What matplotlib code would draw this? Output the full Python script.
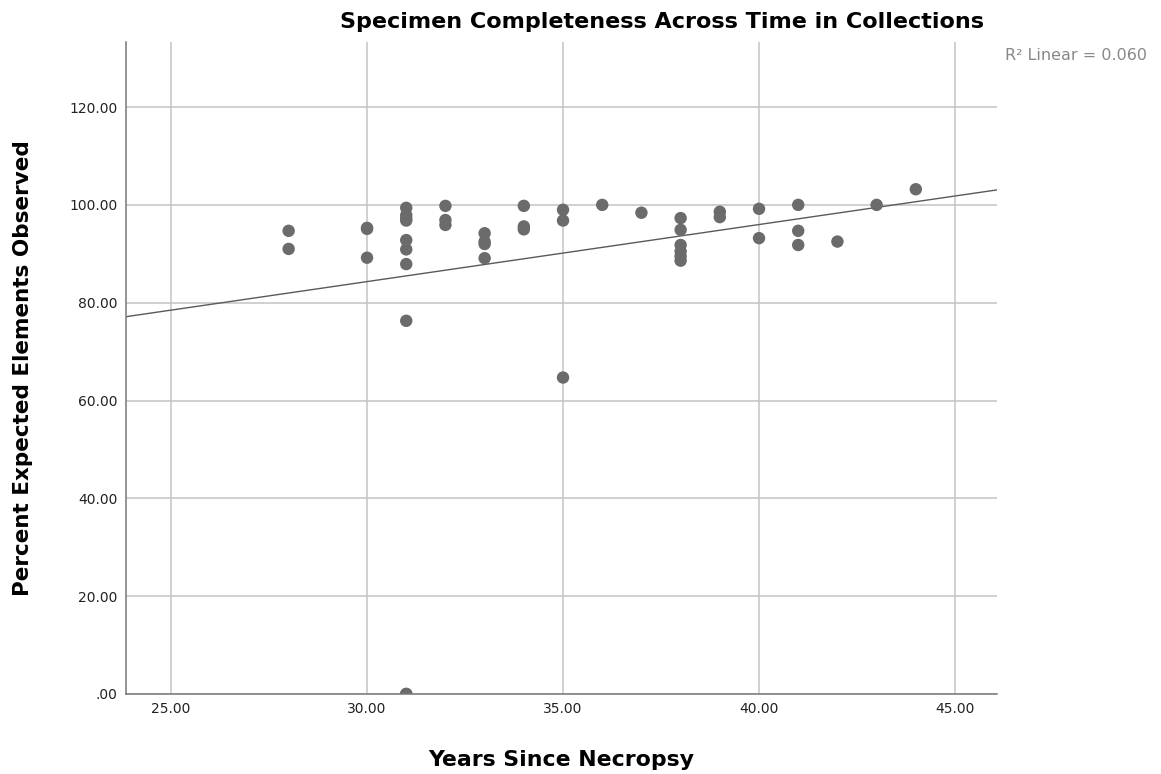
import numpy as np
import matplotlib.pyplot as plt

# Years since necropsy vs percent of expected elements observed
years = [28, 28,
         30, 30, 30,
         31, 31, 31, 31, 31, 31, 31, 31, 31, 31,
         32, 32, 32,
         33, 33, 33, 33,
         34, 34, 34,
         35, 35, 35,
         36, 37,
         38, 38, 38, 38, 38, 38,
         39, 39,
         40, 40,
         41, 41, 41,
         42, 43, 44]
percent = [94.7, 91.0,
           95.1, 95.3, 89.2,
           99.4, 97.9, 97.2, 96.8, 92.8, 90.9, 87.9, 76.3, 0.0, 0.0,
           99.8, 96.9, 95.9,
           94.2, 92.5, 92.0, 89.1,
           99.8, 95.6, 95.0,
           99.0, 96.8, 64.7,
           100.0, 98.4,
           97.3, 94.9, 91.8, 90.5, 89.5, 88.6,
           98.6, 97.5,
           99.2, 93.2,
           100.0, 94.7, 91.8,
           92.5, 100.0, 103.2]
r2_label = "R\u00b2 Linear = 0.060"

x_ticks = [25, 30, 35, 40, 45]
y_ticks = [0, 20, 40, 60, 80, 100, 120]

fig = plt.figure(figsize=(11.61, 7.74), dpi=100)
ax = fig.add_axes([0.1085, 0.1034, 0.7502, 0.8423])

ax.set_xlim(23.85, 46.07)
ax.set_ylim(0, 133.3)

ax.set_xticks(x_ticks)
ax.set_yticks(y_ticks)
ax.set_xticklabels(["%.2f" % t for t in x_ticks])
ax.set_yticklabels([".00" if t == 0 else "%.2f" % t for t in y_ticks])
ax.grid(True, color="#c4c4c4", linewidth=1.1)
ax.set_axisbelow(True)
ax.tick_params(length=0, labelsize=10, colors="#222222", pad=6)

for s in ["top", "right"]:
    ax.spines[s].set_visible(False)
for s in ["left", "bottom"]:
    ax.spines[s].set_color("#777777")
    ax.spines[s].set_linewidth(1.1)
    ax.spines[s].set_zorder(4)

# linear fit line
b, a = np.polyfit(years, percent, 1)
xs = np.array(ax.get_xlim())
ax.plot(xs, a + b * xs, color="#5a5a5a", linewidth=1.0, zorder=2)

ax.scatter(years, percent, s=80, color="#6b6b6b", edgecolors="none", zorder=3)

fig.text(662 / 1161, 1 - 22 / 774, "Specimen Completeness Across Time in Collections",
         ha="center", va="center", fontsize=16, fontweight="bold")
fig.text(1005 / 1161, 1 - 56 / 774, r2_label, ha="left", va="center",
         fontsize=11.5, color="#888888")
ax.set_xlabel("Years Since Necropsy", fontsize=15.8, fontweight="bold", labelpad=24)
ax.set_ylabel("Percent Expected Elements Observed", fontsize=15.5, fontweight="bold", labelpad=26)

fig.savefig("out.png", dpi=100)
